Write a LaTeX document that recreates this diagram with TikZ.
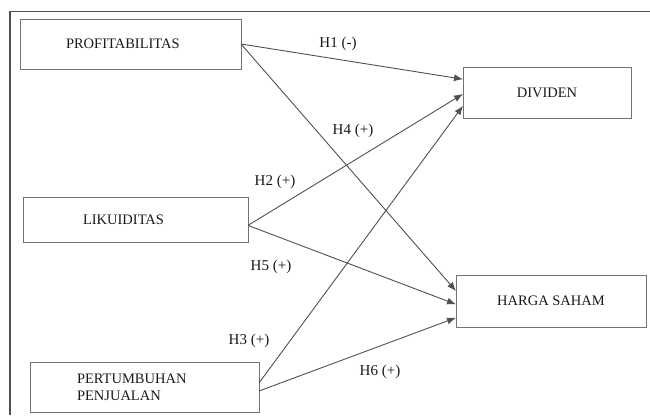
\documentclass[tikz,border=0pt]{standalone}
\usepackage{fontspec}
\setmainfont{Liberation Serif}
\usetikzlibrary{arrows.meta}
\definecolor{framegray}{RGB}{80,80,80}
\definecolor{boxgray}{RGB}{115,115,115}
\definecolor{linegray}{RGB}{80,80,80}

\begin{document}
\begin{tikzpicture}[
    x=1pt, y=-1pt,
    box/.style={draw=boxgray, line width=0.9pt, inner sep=0pt, outer sep=0pt, minimum height=50pt, font=\fontsize{14.5}{17}\selectfont, text=black!90},
    hyp/.style={font=\fontsize{15}{17}\selectfont, text=black!90},
    arrow/.style={-{Latex[length=9pt,width=7pt]}, draw=linegray, line width=0.9pt}
]
    \useasboundingbox (0,0) rectangle (650,415);
    % Frame
    \draw[framegray, line width=1.8pt] (10,415) -- (10,11.5) -- (650,11.5);

    % Independent variables
    \node[box, minimum width=221pt, text width=129pt, align=left] (prof) at (130.5,44) {PROFITABILITAS};
    \node[box, minimum width=225pt, minimum height=45pt, text width=105pt, align=left] (lik) at (135.5,219.5) {LIKUIDITAS};
    \node[box, minimum width=229pt, text width=135pt, align=left] (pert) at (144.5,387) {PERTUMBUHAN\\PENJUALAN};

    % Dependent variables
    \node[box, minimum width=168pt, minimum height=51pt] (divi) at (547,92.5) {DIVIDEN};
    \node[box, minimum width=190pt, minimum height=52pt] (harga) at (551,301) {HARGA SAHAM};

    % Arrows
    \draw[arrow] (prof.east) -- (divi.171.5);
    \draw[arrow] (prof.east) -- (harga.174.6);
    \draw[arrow] (lik.-3) -- (divi.181.7);
    \draw[arrow] (lik.-3) -- (harga.182.4);
    \draw[arrow] (pert.2) -- (divi.189);
    \draw[arrow] (pert.-2) -- (harga.190);

    % Hypotheses
    \node[hyp] (h1) at (338,44) {H1 (-)};
    \node[hyp] (h2) at (275,182) {H2 (+)};
    \node[hyp] (h3) at (249,341) {H3 (+)};
    \node[hyp] (h4) at (353,131) {H4 (+)};
    \node[hyp] (h5) at (271,267) {H5 (+)};
    \node[hyp] (h6) at (380,372) {H6 (+)};
\end{tikzpicture}
\end{document}
